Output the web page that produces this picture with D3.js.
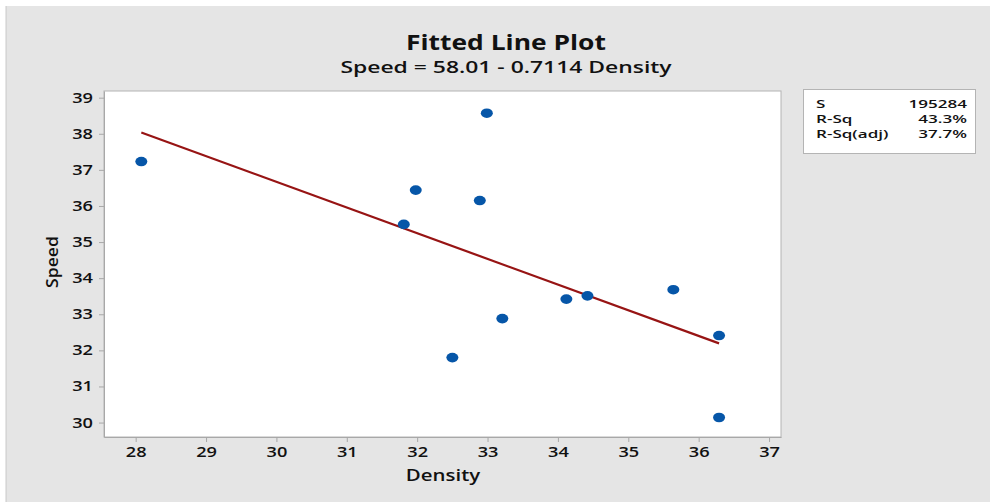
<!DOCTYPE html>
<html>
<head>
<meta charset="utf-8">
<script src="https://cdn.jsdelivr.net/npm/d3@7/dist/d3.min.js"></script>
<style>
  body { margin: 0; background: #fff; }
  svg text { font-family: "Open Sans", "Noto Sans", sans-serif; fill: #111; }
</style>
</head>
<body>
<svg id="chart" width="990" height="502"></svg>
<script>
// data
var density = [28.08, 32.99, 31.98, 32.89, 31.81, 34.12, 33.21, 32.50, 34.42, 35.64, 36.29, 36.29];
var speed   = [37.23, 38.57, 36.44, 36.15, 35.49, 33.42, 32.88, 31.80, 33.51, 33.68, 32.41, 30.14];
var xTicks = [28, 29, 30, 31, 32, 33, 34, 35, 36, 37];
var yTicks = [30, 31, 32, 33, 34, 35, 36, 37, 38, 39];
var fitIntercept = 58.01;
var fitSlope = -0.7114;
var statLabels = ["S", "R-Sq", "R-Sq(adj)"];
var statValues = ["195284", "43.3%", "37.7%"];

var svg = d3.select("#chart");
var plot = { left: 104, top: 91, right: 781, bottom: 437 };
var STRETCH = 1.3; // the picture is wider than it is tall, text too

var x = d3.scaleLinear().domain([27.55, 37.17]).range([plot.left, plot.right]);
var y = d3.scaleLinear().domain([29.6, 39.185]).range([plot.bottom, plot.top]);

// widen a text to match the stretched look of the reference
function stretch(sel, k) {
    sel.each(function() {
        var w = this.getComputedTextLength();
        d3.select(this).attr("textLength", w * k).attr("lengthAdjust", "spacingAndGlyphs");
    });
}

// background
svg.append("rect").attr("width", 990).attr("height", 502).attr("fill", "#ffffff");
svg.append("rect").attr("x", 5).attr("y", 6).attr("width", 985).attr("height", 496)
    .attr("fill", "#e5e5e5");
svg.append("line").attr("x1", 6.5).attr("y1", 6).attr("x2", 6.5).attr("y2", 502)
    .attr("stroke", "#d6d6d6");

// plot area
svg.append("rect")
    .attr("x", plot.left).attr("y", plot.top)
    .attr("width", plot.right - plot.left).attr("height", plot.bottom - plot.top)
    .attr("fill", "#ffffff").attr("stroke", "#b4b4b4");

// axes
var xAxis = svg.append("g")
    .attr("transform", "translate(0," + plot.bottom + ")")
    .call(d3.axisBottom(x).tickValues(xTicks).tickSize(5).tickPadding(5).tickSizeOuter(0));
var yAxis = svg.append("g")
    .attr("transform", "translate(" + plot.left + ",0)")
    .call(d3.axisLeft(y).tickValues(yTicks).tickSize(5).tickPadding(6).tickSizeOuter(0));

[xAxis, yAxis].forEach(function(ax) {
    ax.select(".domain").attr("stroke", "#a8a8a8");
    ax.selectAll(".tick line").attr("stroke", "#a8a8a8");
    ax.selectAll(".tick text")
        .attr("font-size", 14)
        .attr("font-weight", 600)
        .style("font-family", "'Open Sans', 'Noto Sans', sans-serif")
        .attr("fill", "#111");
    stretch(ax.selectAll(".tick text"), STRETCH);
});

// fitted line
var xs = d3.extent(density);
svg.append("line")
    .attr("x1", x(xs[0])).attr("y1", y(fitIntercept + fitSlope * xs[0]))
    .attr("x2", x(xs[1])).attr("y2", y(fitIntercept + fitSlope * xs[1]))
    .attr("stroke", "#971414").attr("stroke-width", 2.2);

// points
svg.append("g").selectAll("ellipse")
    .data(density)
    .enter().append("ellipse")
    .attr("cx", function(d) { return x(d); })
    .attr("cy", function(d, i) { return y(speed[i]); })
    .attr("rx", 6).attr("ry", 4.8)
    .attr("fill", "#0656a8");

// titles
var t1 = svg.append("text").attr("x", 506).attr("y", 49.5)
    .attr("text-anchor", "middle").attr("font-size", 22).attr("font-weight", 700)
    .text("Fitted Line Plot");
stretch(t1, 1.2);
var t2 = svg.append("text").attr("x", 506).attr("y", 73)
    .attr("text-anchor", "middle").attr("font-size", 16).attr("font-weight", 600)
    .text("Speed = 58.01 - 0.7114 Density");
stretch(t2, 1.43);

// axis labels
var xl = svg.append("text").attr("x", 443).attr("y", 481)
    .attr("text-anchor", "middle").attr("font-size", 17).attr("font-weight", 600)
    .text("Density");
stretch(xl, 1.2);
svg.append("text")
    .attr("transform", "translate(58,262) rotate(-90)")
    .attr("text-anchor", "middle").attr("font-size", 17).attr("font-weight", 600)
    .attr("textLength", 52).attr("lengthAdjust", "spacingAndGlyphs")
    .text("Speed");

// statistics box
svg.append("rect").attr("x", 803.5).attr("y", 89.5).attr("width", 172).attr("height", 64)
    .attr("fill", "#ffffff").attr("stroke", "#b4b4b4");
var rows = svg.append("g").selectAll("g").data(statLabels).enter().append("g");
var lbl = rows.append("text")
    .attr("x", 816).attr("y", function(d, i) { return 108 + i * 15; })
    .attr("font-size", 11).attr("font-weight", 600)
    .text(function(d) { return d; });
stretch(lbl, 1.55);
var val = rows.append("text")
    .attr("x", 967).attr("y", function(d, i) { return 108 + i * 15; })
    .attr("text-anchor", "end").attr("font-size", 11).attr("font-weight", 600)
    .text(function(d, i) { return statValues[i]; });
stretch(val, 1.55);
</script>
</body>
</html>
